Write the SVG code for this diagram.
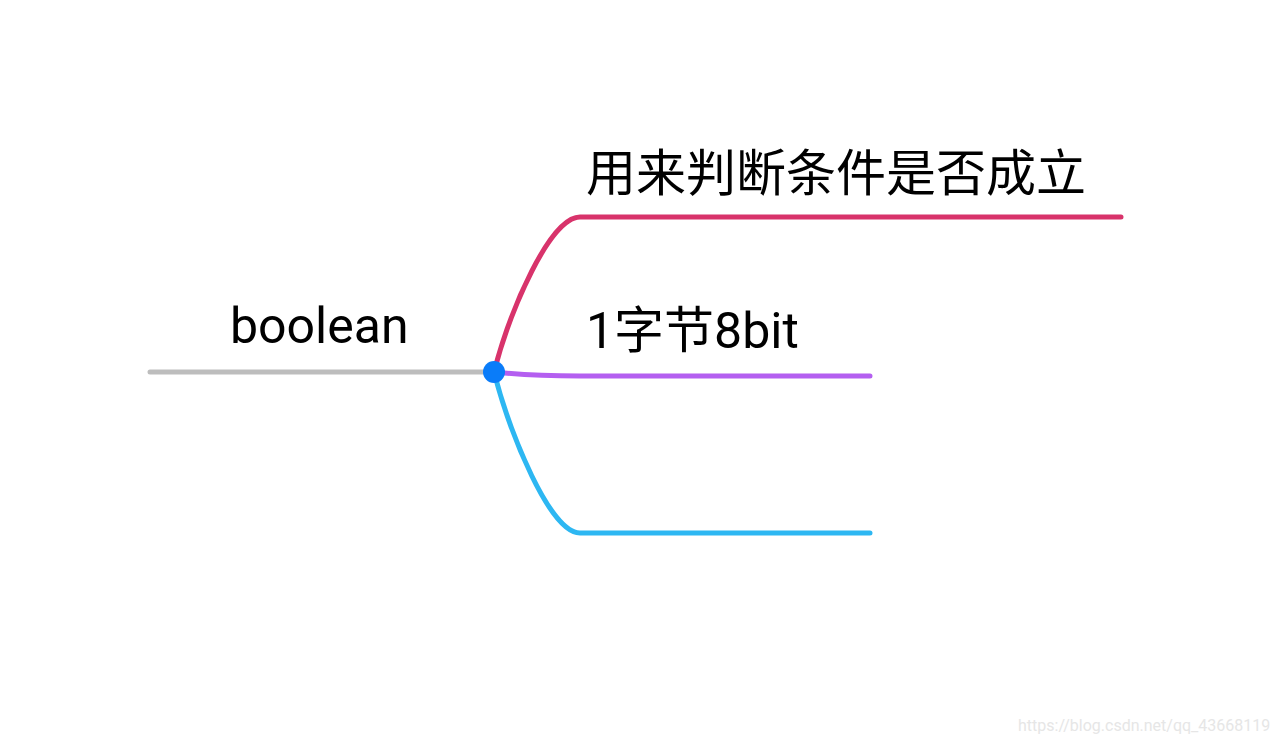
<svg xmlns="http://www.w3.org/2000/svg" width="1270" height="744" viewBox="0 0 1270 744">
<style>
.t{font-family:Roboto,"Noto Sans CJK SC","Liberation Sans",sans-serif;font-size:50px;fill:#000}
.c{fill:none;stroke-width:5;stroke-linecap:round}
</style>
<rect width="1270" height="744" fill="#fff"/>
<g id="connectors">
<path class="c" stroke="#bdbdbd" d="M150,372 L494,372"/>
<path class="c" stroke="#d8336b" d="M494,372 C510,310 550,217 580,217 L1121,217"/>
<path class="c" stroke="#b45ff0" d="M494,372 C530,376 560,376 580,376 L870,376"/>
<path class="c" stroke="#2db7f2" d="M494,372 C510,434 550,533 580,533 L870,533"/>
</g>
<g id="root">
<text class="t" x="230" y="343">boolean</text>
<circle cx="494" cy="372" r="11" fill="#0a7cf9"/>
</g>
<g id="n1"><text class="t" x="586" y="191">用来判断条件是否成立</text></g>
<g id="n2"><text class="t" x="586" y="348">1字节8bit</text></g>
<g id="n3"></g>
<text x="1018" y="731" font-family="Roboto,'Liberation Sans',sans-serif" font-size="16" fill="#e6e6e6">https://blog.csdn.net/qq_43668119</text>
</svg>
